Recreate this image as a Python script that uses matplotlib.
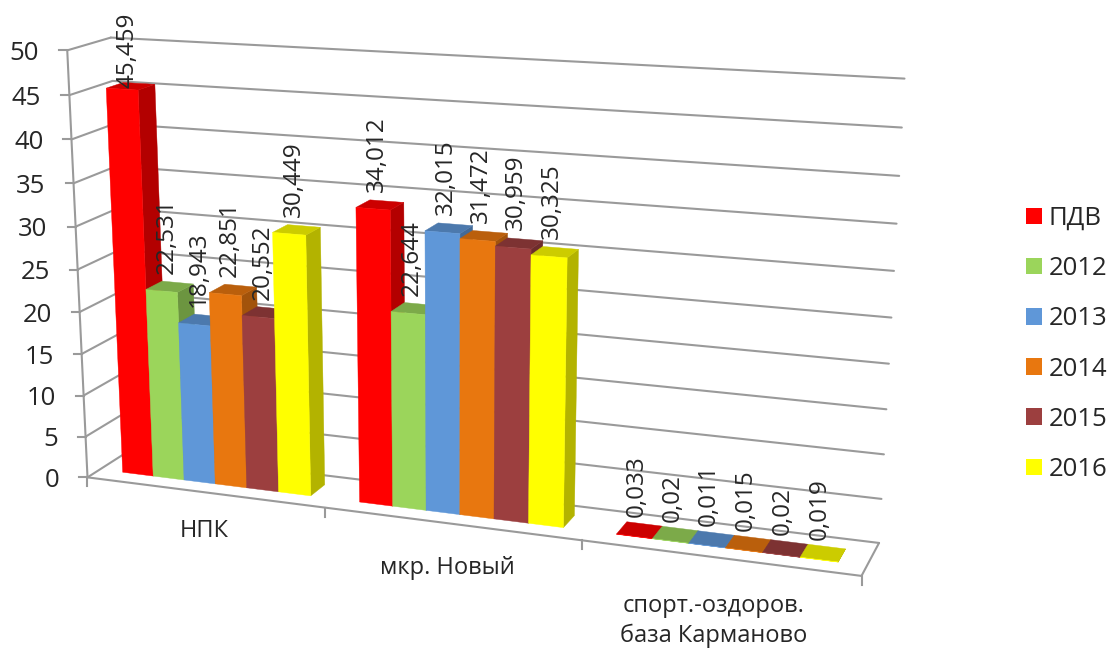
import numpy as np
import matplotlib
matplotlib.use("Agg")
import matplotlib.pyplot as plt
from matplotlib.patches import Polygon, Patch

# Chart data
categories = ["НПК", "мкр. Новый", "спорт.-оздоров.\nбаза Карманово"]
series_names = ["ПДВ", "2012", "2013", "2014", "2015", "2016"]
pdv = [45.459, 34.012, 0.033]
y2012 = [22.531, 22.644, 0.02]
y2013 = [18.943, 32.015, 0.011]
y2014 = [22.851, 31.472, 0.015]
y2015 = [20.552, 30.959, 0.02]
y2016 = [30.449, 30.325, 0.019]
series_values = [pdv, y2012, y2013, y2014, y2015, y2016]
value_labels = [["45,459", "34,012", "0,033"],
                ["22,531", "22,644", "0,02"],
                ["18,943", "32,015", "0,011"],
                ["22,851", "31,472", "0,015"],
                ["20,552", "30,959", "0,02"],
                ["30,449", "30,325", "0,019"]]
y_ticks = [0, 5, 10, 15, 20, 25, 30, 35, 40, 45, 50]
colors = ["#FF0000", "#9BD55B", "#5F97D8", "#E8770F", "#9C3F3F", "#FFFF00"]

FONT = "Open Sans"
GRID = "#9A9A9A"
TEXT = "#262626"

# Camera: least-squares fit of a projective map (category, depth, value) -> pixels
anchors = [((0, 0, 0), (88, 477)), ((1, 0, 0), (325, 508)), ((2, 0, 0), (582, 540)),
           ((3, 0, 0), (861, 576)), ((3, 1, 0), (879, 543)), ((0, 1, 0), (127, 451)),
           ((0, 0, 50), (66, 50)), ((0, 0, 25), (78, 270)), ((0, 1, 50), (112, 38)),
           ((3, 1, 50), (904, 78)), ((3, 1, 25), (892, 318))]
rows, rhs = [], []
for (x, d, v), (px, py) in anchors:
    rows.append([x, d, v, 1, 0, 0, 0, 0, -px * x, -px * d, -px * v])
    rhs.append(px)
    rows.append([0, 0, 0, 0, x, d, v, 1, -py * x, -py * d, -py * v])
    rhs.append(py)
coef = np.linalg.lstsq(np.array(rows, float), np.array(rhs, float), rcond=None)[0]
camera = np.append(coef, 1.0).reshape(3, 4)


def project(x, d, v):
    u = camera @ np.array([x, d, v, 1.0])
    return u[0] / u[2], u[1] / u[2]


def shade(color, k):
    return tuple(c * k for c in matplotlib.colors.to_rgb(color))


fig = plt.figure(figsize=(11.1, 6.48), dpi=100)
ax = fig.add_axes([0, 0, 1, 1])
ax.set_xlim(0, 1110)
ax.set_ylim(648, 0)
ax.axis("off")


def line(p, q, **kw):
    a, b = project(*p), project(*q)
    ax.plot([a[0], b[0]], [a[1], b[1]], color=GRID, lw=1.5, solid_capstyle="round", zorder=1, **kw)


# Walls, floor and axes
for v in y_ticks:
    line((0, 0, v), (0, 1, v))
    line((0, 1, v), (3, 1, v))
    px, py = project(0, 0, v)
    ax.plot([px - 8, px], [py, py], color=GRID, lw=1.5, zorder=1)
    ax.text(px - 28, py + 3, str(v), ha="right", va="center", fontsize=18.5,
            family=FONT, color=TEXT, zorder=5)
line((0, 0, 0), (0, 0, 50))
line((0, 0, 0), (3, 0, 0))
line((3, 0, 0), (3, 1, 0))
for i in range(4):
    px, py = project(i, 0, 0)
    ax.plot([px, px], [py, py + 9], color=GRID, lw=1.5, zorder=1)

# Bars, painted left to right so that each covers its neighbour's side face
n = len(series_names)
margin, width = 0.10, 0.80 / n
d0, d1 = 0.30, 0.70
z = 2.0
for g in range(len(categories)):
    for s in range(n):
        val = series_values[s][g]
        c = colors[s]
        x0 = g + margin + s * width
        x1 = x0 + width
        faces = [
            ([(x1, d0, 0), (x1, d1, 0), (x1, d1, val), (x1, d0, val)], shade(c, 0.70)),
            ([(x0, d0, val), (x1, d0, val), (x1, d1, val), (x0, d1, val)], shade(c, 0.80)),
            ([(x0, d0, 0), (x1, d0, 0), (x1, d0, val), (x0, d0, val)], c),
        ]
        for pts, col in faces:
            ax.add_patch(Polygon([project(*p) for p in pts], closed=True, facecolor=col,
                                 edgecolor=col, lw=0.3, zorder=z))
            z += 0.001
        # Value label sits above the bar, kept inside the top of the chart
        tx, ty = project((x0 + x1) / 2, 0.5, val)
        ax.text(tx - 3, max(ty - 13, 88), value_labels[s][g], rotation=90, ha="center", va="bottom",
                fontsize=17.5, family=FONT, color=TEXT, zorder=6)

# Category labels below the floor edge
label_drop = [27, 32, 36]
label_shift = [1, -3, -5]
for g, name in enumerate(categories):
    px, py = project(g + 0.5, 0, 0)
    ax.text(px + label_shift[g], py + label_drop[g], name, ha="center", va="top", fontsize=17,
            family=FONT, color=TEXT, linespacing=1.3, zorder=5)

# Legend
handles = [Patch(facecolor=c, edgecolor="none", label=nm) for c, nm in zip(colors, series_names)]
ax.legend(handles=handles, loc="upper left", bbox_to_anchor=(1026 / 1110, 1 - 206 / 648),
          frameon=False, borderpad=0, borderaxespad=0, labelspacing=0.98, handlelength=0.62,
          handleheight=0.62, handletextpad=0.26, prop={"family": FONT, "size": 18.5},
          labelcolor=TEXT)

fig.savefig("out.png", dpi=100)
